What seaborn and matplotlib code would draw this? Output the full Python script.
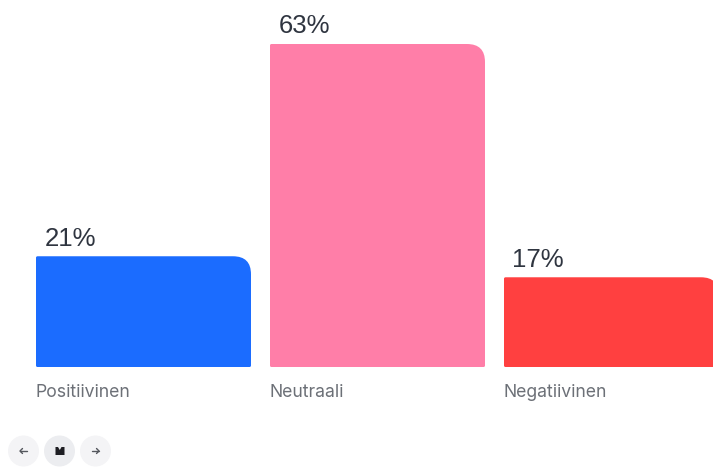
import matplotlib
matplotlib.use("Agg")
import matplotlib.pyplot as plt
import seaborn as sns
import pandas as pd
from matplotlib.path import Path
from matplotlib.patches import PathPatch, Circle, Polygon

categories = ["Positiivinen", "Neutraali", "Negatiivinen"]
bar_values = [21.6, 63.0, 17.5]
value_labels = ["21%", "63%", "17%"]
colors = ["#1b6cff", "#ff7ea8", "#ff4040"]

W, H = 713, 469
PX_X = 234.0      # pixels per category
PX_Y = 323 / 63   # pixels per percent
BASE = 367
LEFT_CENTER = 143.5
BAR_W = 215 / 234

sns.set_theme(style="white")
plt.rcParams["font.family"] = ["Inter", "DejaVu Sans"]

fig = plt.figure(figsize=(W / 100, H / 100), dpi=100, facecolor="white")
ax = fig.add_axes([0, 0, 1, 1])
df = pd.DataFrame({"cat": categories, "val": bar_values})
sns.barplot(data=df, x="cat", y="val", hue="cat", palette=colors, width=BAR_W,
            legend=False, ax=ax, saturation=1)
ax.set_xlim(-LEFT_CENTER / PX_X, (W - LEFT_CENTER) / PX_X)
ax.set_ylim(-(H - BASE) / PX_Y, BASE / PX_Y)
ax.set_axis_off()


def rounded(x0, x1, top, r=18, s=1.5):
    rx, ry = r / PX_X, r / PX_Y
    sx, sy = s / PX_X, s / PX_Y
    verts = [(x0 + sx, 0), (x1 - sx, 0), (x1, 0), (x1, sy),
             (x1, top - ry), (x1, top), (x1 - rx, top),
             (x0 + sx, top), (x0, top), (x0, top - sy),
             (x0, sy), (x0, 0), (x0 + sx, 0), (x0 + sx, 0)]
    codes = [Path.MOVETO, Path.LINETO, Path.CURVE3, Path.CURVE3,
             Path.LINETO, Path.CURVE3, Path.CURVE3,
             Path.LINETO, Path.CURVE3, Path.CURVE3,
             Path.LINETO, Path.CURVE3, Path.CURVE3, Path.CLOSEPOLY]
    return Path(verts, codes)


for bar, label, cat in zip(list(ax.patches), value_labels, categories):
    x0, x1, top = bar.get_x(), bar.get_x() + bar.get_width(), bar.get_height()
    ax.add_patch(PathPatch(rounded(x0, x1, top), facecolor=bar.get_facecolor(),
                           edgecolor="none"))
    bar.set_visible(False)
    ax.text(x0 + 8.5 / PX_X, top + 5.5 / PX_Y, label, fontsize=18.5, color="#2f3540",
            ha="left", va="bottom", family=["Liberation Sans", "DejaVu Sans"])
    ax.text(x0 - 0.5 / PX_X, -25.5 / PX_Y, cat, fontsize=12.7, color="#6c7077",
            ha="left", va="center")

# Navigation buttons below the chart, in pixel coordinates
nav = fig.add_axes([0, 0, 1, 1])
nav.set_xlim(0, W)
nav.set_ylim(H, 0)
nav.set_axis_off()
nav.patch.set_alpha(0)
for cx, fc in [(23.5, "#f4f4f6"), (59.5, "#ecedf0"), (95.5, "#f4f4f6")]:
    nav.add_patch(Circle((cx, 451), 15.5, facecolor=fc, edgecolor="none"))
for cx, sign in [(23.5, -1), (95.5, 1)]:
    nav.plot([cx - sign * 3.5, cx + sign * 3.5], [451, 451], color="#55585e", lw=1)
    nav.plot([cx + sign * 1, cx + sign * 3.5, cx + sign * 1], [448.5, 451, 453.5],
             color="#55585e", lw=1)
nav.set_xlim(0, W)
nav.set_ylim(H, 0)
nav.add_patch(Polygon([(55.5, 447), (58, 447), (59.8, 450), (61.5, 447), (64.5, 447),
                       (64.5, 455), (55.5, 455)],
                      facecolor="#1d1d22", edgecolor="none"))

fig.savefig("out.png", dpi=100)
